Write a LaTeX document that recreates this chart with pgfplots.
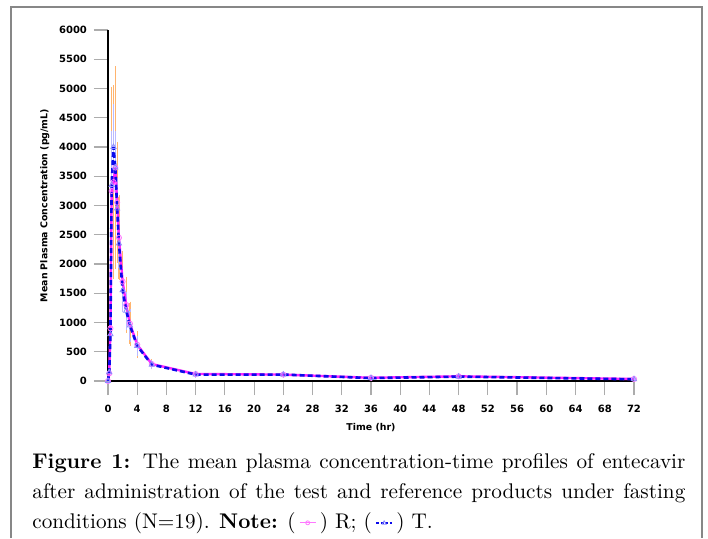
\documentclass[border=0pt]{standalone}
\usepackage{fontspec}
\setsansfont{DejaVu Sans}
\usepackage{pgfplots}
\usepackage{pgfplotstable}
\pgfplotsset{compat=1.18}

\definecolor{tblue}{RGB}{10,10,235}
\definecolor{tmark}{RGB}{140,140,255}
\definecolor{rmag}{RGB}{255,40,255}
\definecolor{rmark}{RGB}{255,120,255}
\definecolor{rerr}{RGB}{255,180,110}
\definecolor{terr}{RGB}{185,185,255}
\definecolor{framegray}{RGB}{135,135,135}

% mean concentration (pg/mL) and SD, fasting, N=19
\pgfplotstableread{
t      R     Rsd    T     Tsd
0      0     0      0     0
0.167  130   120    150   140
0.333  900   600    800   500
0.5    3250  1750   3350  900
0.75   3400  1630   4000  700
1      3650  1700   3650  600
1.25   3050  1000   2950  500
1.5    2450  700    2350  420
2      1700  500    1550  350
2.5    1300  450    1200  300
3      980   350    950   250
4      620   200    600   150
6      290   60     280   50
12     120   30     110   30
24     110   25     110   25
36     55    20     50    20
48     80    20     75    20
72     35    15     30    15
}\pkdata

\newcommand{\legR}{\tikz[baseline=-2.6pt]{\draw[rmark, line width=0.6pt] (0,0) -- (8pt,0); \draw[rmark, line width=0.4pt] (4pt,0) circle (1pt);}}
\newcommand{\legT}{\tikz[baseline=-2.6pt]{\draw[tblue, line width=0.7pt, dash pattern=on 1.5pt off 0.8pt] (0,0) -- (8pt,0); \draw[tmark, line width=0.4pt] (3pt,-0.7pt) -- (5pt,-0.7pt) -- (4pt,1pt) -- cycle;}}

\begin{document}
\begin{tikzpicture}
\path[use as bounding box, fill=white] (0,0) rectangle (354pt,-269pt);
\draw[framegray, line width=1pt] (5.5pt,-269pt) -- (5.5pt,-3.5pt) -- (351pt,-3.5pt) -- (351pt,-269pt);

\begin{axis}[
    at={(54pt,-190.5pt)}, anchor=south west,
    scale only axis,
    width=263pt, height=175.5pt,
    xmin=0, xmax=72, ymin=0, ymax=6000,
    axis x line*=bottom, axis y line*=left,
    axis line style={black, line width=1pt},
    xtick={0,4,...,72},
    ytick={0,500,...,6000},
    tick align=outside,
    major tick length=7pt,
    tick style={gray!65, line width=0.6pt},
    ticklabel style={font=\sffamily\bfseries\fontsize{5}{5}\selectfont},
    xticklabel style={yshift=-1.5pt},
    /pgf/number format/assume math mode=true,
    /pgf/number format/1000 sep={},
    scaled y ticks=false,
    xlabel={Time (hr)},
    ylabel={Mean Plasma Concentration (pg/mL)},
    label style={font=\sffamily\bfseries\fontsize{4.7}{5}\selectfont},
    xlabel style={at={(axis description cs:0.5,-0.134)}, anchor=center},
    ylabel style={at={(axis description cs:-0.12,0.5)}, anchor=center, rotate=0},
    clip=false,
]
% SD bars
\addplot[color=rerr, draw=none, mark=none, forget plot,
    error bars/.cd, y dir=both, y explicit,
    error bar style={draw=rerr, solid, line width=0.6pt},
    error mark options={draw=rerr, mark size=0.8pt}]
    table[x=t, y=R, y error=Rsd] {\pkdata};
\addplot[color=terr, draw=none, mark=none, forget plot,
    error bars/.cd, y dir=both, y explicit,
    error bar style={draw=terr, solid, line width=0.5pt},
    error mark options={draw=terr, mark size=0.8pt}]
    table[x=t, y=T, y error=Tsd] {\pkdata};
% R
\addplot[rmag, line width=1.2pt, mark=o, mark size=1.3pt,
    mark options={rmark, solid, line width=0.4pt}]
    table[x=t, y=R] {\pkdata};
% T
\addplot[tblue, line width=1.3pt, dash pattern=on 2.5pt off 1.5pt,
    mark=triangle, mark size=1.5pt,
    mark options={tmark, solid, line width=0.4pt}]
    table[x=t, y=T] {\pkdata};
\end{axis}

\begin{scope}[every node/.style={anchor=base west, inner sep=0pt, font=\fontsize{10.6}{12}\selectfont}]
\node at (16pt,-234pt) {\makebox[326.5pt][s]{\textbf{Figure 1:} The mean plasma concentration-time profiles of entecavir}};
\node at (16pt,-249pt) {\makebox[326.5pt][s]{after administration of the test and reference products under fasting}};
\node at (16pt,-264pt) {conditions (N=19). \textbf{Note:} (\,\legR\,) R; (\,\legT\,) T.};
\end{scope}
\end{tikzpicture}
\end{document}
